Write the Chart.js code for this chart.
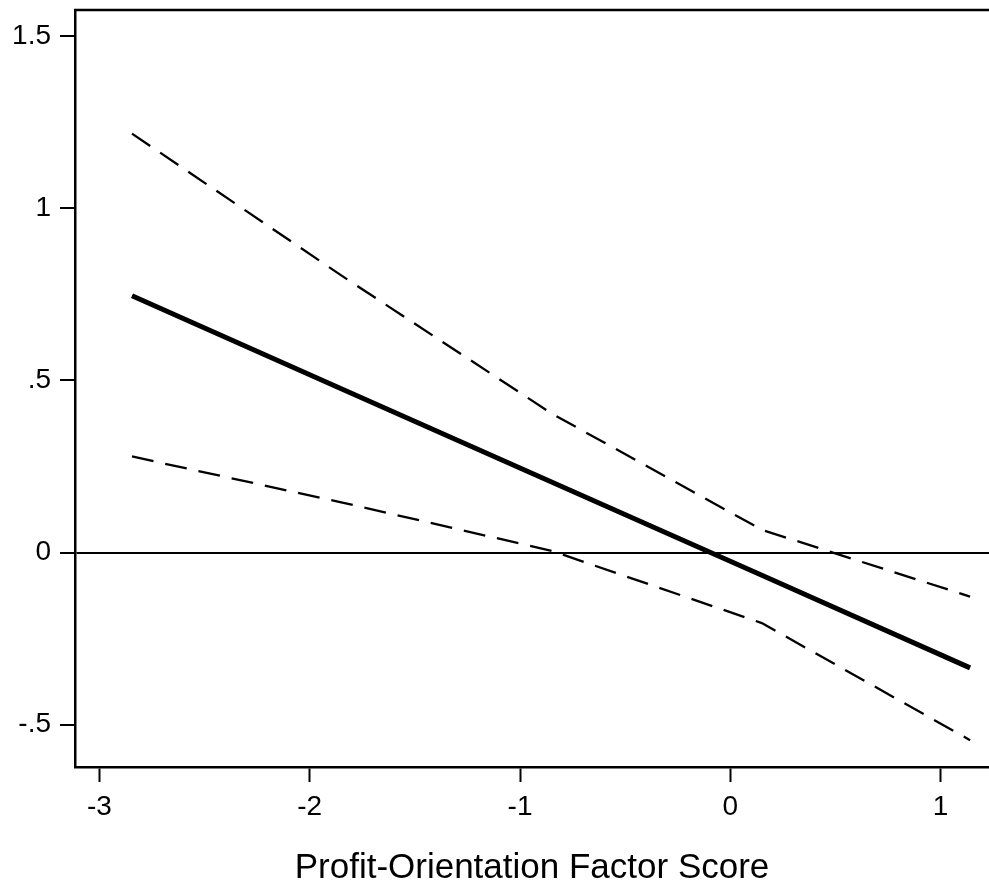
<!DOCTYPE html>
<html>
<head>
<meta charset="utf-8">
<script src="https://cdn.jsdelivr.net/npm/chart.js@4.4.1/dist/chart.umd.min.js"></script>
<style>
  html, body { margin: 0; padding: 0; background: #fff; }
  #wrap { width: 989px; height: 890px; position: relative; }
</style>
</head>
<body>
<div id="wrap"><canvas id="marginsChart"></canvas></div>
<script>
// factor score values where the margins were evaluated
var xVals = [-2.845, -1.85, -0.85, 0.15, 1.14];
// predicted effect and its confidence band
var estimate = [0.746, 0.476, 0.205, -0.066, -0.335];
var upperCI  = [1.217, 0.805, 0.404, 0.066, -0.128];
var lowerCI  = [0.279, 0.146, 0.005, -0.205, -0.545];

var xTicks = [-3, -2, -1, 0, 1];
var yTicks = [-0.5, 0, 0.5, 1, 1.5];
var xTitle = 'Profit-Orientation Factor Score';

var FONT = '"Liberation Sans", Arial, Helvetica, sans-serif';

function pts(arr) {
  return xVals.map(function(x, i) { return { x: x, y: arr[i] }; });
}

function fmt(v) {
  // stata style: .5 instead of 0.5
  var s = String(v);
  return s.replace(/^0\./, '.').replace(/^-0\./, '-.');
}

// top frame line
var topBorder = {
  id: 'topBorder',
  afterDraw: function(chart) {
    var a = chart.chartArea, c = chart.ctx;
    c.save();
    c.strokeStyle = '#000';
    c.lineWidth = 2.5;
    c.beginPath();
    c.moveTo(a.left - 1, a.top);
    c.lineTo(chart.width, a.top);
    c.stroke();
    c.restore();
  }
};

function noPad(scale) {
  scale.paddingTop = 0;
  scale.paddingBottom = 0;
  scale.paddingLeft = 0;
  scale.paddingRight = 0;
}

var ctx = document.getElementById('marginsChart').getContext('2d');

var data = {
  datasets: [
    {
      label: 'Upper CI',
      data: pts(upperCI),
      borderColor: '#000',
      borderWidth: 2.3,
      borderDash: [22, 12],
      pointRadius: 0,
      fill: false,
      tension: 0
    },
    {
      label: 'Estimate',
      data: pts(estimate),
      borderColor: '#000',
      borderWidth: 5,
      pointRadius: 0,
      fill: false,
      tension: 0
    },
    {
      label: 'Lower CI',
      data: pts(lowerCI),
      borderColor: '#000',
      borderWidth: 2.3,
      borderDash: [22, 12],
      pointRadius: 0,
      fill: false,
      tension: 0
    }
  ]
};

var options = {
  responsive: true,
  maintainAspectRatio: false,
  animation: false,
  layout: { padding: { top: 10, right: 0, bottom: 0, left: 0 } },
  plugins: {
    legend: { display: false },
    tooltip: { enabled: false }
  },
  scales: {
    x: {
      type: 'linear',
      min: -3.116,
      max: 1.23,
      afterFit: function(scale) { scale.height = 123; noPad(scale); },
      afterBuildTicks: function(scale) {
        scale.ticks = xTicks.map(function(v) { return { value: v }; });
      },
      border: { display: true, color: '#000', width: 2.5 },
      grid: {
        drawOnChartArea: false,
        drawTicks: true,
        tickLength: 15,
        tickWidth: 2,
        tickColor: '#000'
      },
      ticks: {
        color: '#000',
        padding: 8,
        maxRotation: 0,
        font: { family: FONT, size: 28 },
        callback: function(v) { return fmt(v); }
      },
      title: {
        display: true,
        text: xTitle,
        color: '#000',
        font: { family: FONT, size: 35 },
        padding: { top: 0, bottom: 1 }
      }
    },
    y: {
      type: 'linear',
      min: -0.623,
      max: 1.576,
      afterFit: function(scale) { scale.width = 75; noPad(scale); },
      afterBuildTicks: function(scale) {
        scale.ticks = yTicks.map(function(v) { return { value: v }; });
      },
      border: { display: true, color: '#000', width: 2.5 },
      grid: {
        drawOnChartArea: true,
        color: function(c) { return (c.tick && c.tick.value === 0) ? '#000' : 'rgba(0,0,0,0)'; },
        lineWidth: 2,
        tickLength: 15,
        tickWidth: 2,
        tickColor: '#000'
      },
      ticks: {
        color: '#000',
        padding: 9,
        font: { family: FONT, size: 28 },
        callback: function(v) { return fmt(v); }
      }
    }
  }
};

var myChart = new Chart(ctx, {
  type: 'line',
  data: data,
  options: options,
  plugins: [topBorder]
});
</script>
</body>
</html>
